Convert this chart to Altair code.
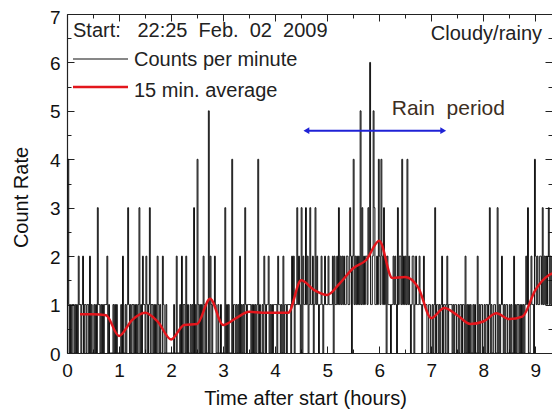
import altair as alt
import pandas as pd

# Counts per minute, one string per 15-minute block (read/estimated from the picture)
count_blocks = [
    "041010110101021", "101201101102010", "010103110101011", "120100001010100",
    "001020010131010", "110101013010211", "021013011010102", "101002100100000",
    "000100200010201", "102010010103010", "410101021010050", "210112100100100",
    "003010100040110", "101020101031011", "110101010140100", "102101120101011",
    "110211010201101", "111021201131210", "302113120131120", "131210112101211",
    "121111202112131", "212121122113202", "412121215131212", "213261125311214",
    "214213120211101", "121210312214121", "214121012201211", "121101211100110",
    "010130110101201", "101201111010110", "010110110201010", "100101002010110",
    "010110130100110", "030101210101100", "101002010110101", "010121300121104",
    "212112213121212", "312121231212",
]
counts = [int(c) for block in count_blocks for c in block]
minutes = list(range(len(counts)))

# 15 minute average
avg_hours = [0.25, 0.5, 0.75, 1.0, 1.25, 1.5, 1.75, 2.0, 2.25, 2.5, 2.75, 3.0, 3.25,
             3.5, 3.75, 4.0, 4.25, 4.5, 4.75, 5.0, 5.25, 5.5, 5.75, 6.0, 6.25, 6.5,
             6.75, 7.0, 7.25, 7.5, 7.75, 8.0, 8.25, 8.5, 8.75, 9.0, 9.25, 9.35]
avg_values = [0.80, 0.80, 0.78, 0.35, 0.68, 0.83, 0.64, 0.28, 0.58, 0.60, 1.12, 0.58,
              0.72, 0.85, 0.83, 0.83, 0.83, 1.50, 1.30, 1.20, 1.45, 1.75, 1.92, 2.32,
              1.55, 1.57, 1.35, 0.72, 0.93, 0.78, 0.60, 0.65, 0.82, 0.70, 0.75, 1.30,
              1.60, 1.65]

rain_start, rain_end, rain_level = 4.6, 7.23, 4.59

x_major = [0, 1, 2, 3, 4, 5, 6, 7, 8, 9]
x_minor = [0.5, 1.5, 2.5, 3.5, 4.5, 5.5, 6.5, 7.5, 8.5]
y_major = [0, 1, 2, 3, 4, 5, 6, 7]
y_minor = [0.5, 1.5, 2.5, 3.5, 4.5, 5.5, 6.5]

FONT = "Liberation Sans"
INK = "#222222"
RED = "#e3161c"
BLUE = "#1f22d6"
NB = "\u00a0"

xs = alt.Scale(domain=[0, 9.32], nice=False, zero=False)
ys = alt.Scale(domain=[0, 7], nice=False, zero=False)


def ax(orient, values, size, labels=False, **kw):
    return alt.Axis(orient=orient, values=values, tickSize=size, offset=-size,
                    domain=False, grid=False, labels=labels, ticks=True,
                    tickColor=INK, tickWidth=1, labelFlush=False,
                    labelOverlap=False, title=kw.pop("title", None), **kw)


def frame(orient):
    return alt.Axis(orient=orient, domain=True, domainColor=INK, domainWidth=1.2,
                    ticks=False, labels=False, grid=False, title=None, values=[0])


df_counts = pd.DataFrame({"hours": [m / 60 for m in minutes], "count": counts})
df_avg = pd.DataFrame({"hours": avg_hours, "avg": avg_values})
df_rain = pd.DataFrame({"start": [rain_start], "end": [rain_end], "level": [rain_level]})
df_heads = pd.DataFrame({"hours": [rain_start, rain_end],
                         "level": [rain_level, rain_level],
                         "shape": ["triangle-left", "triangle-right"]})

counts_line = alt.Chart(df_counts).mark_line(
    interpolate="step-after", color="#111111", strokeWidth=1, clip=True
).encode(
    x=alt.X("hours:Q", scale=xs,
            axis=ax("bottom", x_major, 7, labels=True, title="Time after start (hours)",
                    labelFontSize=19, labelPadding=8, labelColor="#111",
                    titleFontSize=20, titleFontWeight="normal", titlePadding=8,
                    titleColor="#111", titleX=238)),
    y=alt.Y("count:Q", scale=ys,
            axis=ax("left", y_major, 7, labels=True, title="Count Rate",
                    labelFontSize=19, labelPadding=7, labelColor="#111",
                    labelOffset={"condition": {"test": "datum.value == 7", "value": 3},
                                 "value": 1},
                    titleFontSize=20, titleFontWeight="normal", titlePadding=18,
                    titleColor="#111", titleY=183)),
)

avg_line = alt.Chart(df_avg).mark_line(
    interpolate="monotone", color=RED, strokeWidth=2.5, clip=True
).encode(
    x=alt.X("hours:Q", scale=xs, axis=ax("top", x_major, 7)),
    y=alt.Y("avg:Q", scale=ys, axis=ax("right", y_major, 7)),
)

rain_rule = alt.Chart(df_rain).mark_rule(color=BLUE, strokeWidth=2).encode(
    x=alt.X("start:Q", scale=xs, axis=ax("bottom", x_minor, 4)),
    x2="end:Q",
    y=alt.Y("level:Q", scale=ys, axis=ax("left", y_minor, 4)),
)

rain_heads = alt.Chart(df_heads).mark_point(
    filled=True, color=BLUE, size=45, opacity=1
).encode(
    x=alt.X("hours:Q", scale=xs, axis=ax("top", x_minor, 4)),
    y=alt.Y("level:Q", scale=ys, axis=ax("right", y_minor, 4)),
    shape=alt.Shape("shape:N", scale=None),
)


def note(text, xv, yv, size, align="left", color="#222", xaxis=None, yaxis=None):
    return alt.Chart(pd.DataFrame({"t": [text]})).mark_text(
        align=align, baseline="middle", fontSize=size, font=FONT, color=color
    ).encode(
        x=alt.XDatum(xv, type="quantitative", scale=xs, axis=xaxis),
        y=alt.YDatum(yv, type="quantitative", scale=ys, axis=yaxis),
        text="t:N",
    )


start_label = NB.join(["Start:", "", "", "22:25", "", "Feb.", "", "02", "", "2009"])
start_txt = note(start_label, 0.115, 6.64, 20,
                 xaxis=frame("bottom"), yaxis=frame("left"))
cloud_txt = note("Cloudy/rainy", 9.128, 6.58, 20, align="right", xaxis=frame("top"))
rain_txt = note("Rain" + NB * 2 + "period", 6.24, 5.03, 21, color="#3d2e1e")

# legend keys
leg_black = alt.Chart(pd.DataFrame({"k": [0]})).mark_rule(color="#111", strokeWidth=1.2).encode(
    x=alt.value(6), x2=alt.value(61), y=alt.value(45))
leg_red = alt.Chart(pd.DataFrame({"k": [0]})).mark_rule(color=RED, strokeWidth=2.5).encode(
    x=alt.value(6), x2=alt.value(61), y=alt.value(73))
leg_t1 = alt.Chart(pd.DataFrame({"t": ["Counts per minute"]})).mark_text(
    align="left", baseline="middle", fontSize=20, font=FONT, color="#222").encode(
    x=alt.value(67), y=alt.value(46), text="t:N")
leg_t2 = alt.Chart(pd.DataFrame({"t": ["15 min. average"]})).mark_text(
    align="left", baseline="middle", fontSize=20, font=FONT, color="#222").encode(
    x=alt.value(67), y=alt.value(77), text="t:N")

chart = alt.layer(
    counts_line, avg_line, rain_rule, rain_heads,
    start_txt, cloud_txt, rain_txt, leg_black, leg_red, leg_t1, leg_t2,
).resolve_axis(x="independent", y="independent").properties(
    width=485, height=339,
    padding={"left": 59, "top": 6, "right": 0, "bottom": 58},
    autosize="none",
).configure(font=FONT).configure_view(stroke=None)

chart.save("out.html", embed_options={"renderer": "svg", "actions": False})
